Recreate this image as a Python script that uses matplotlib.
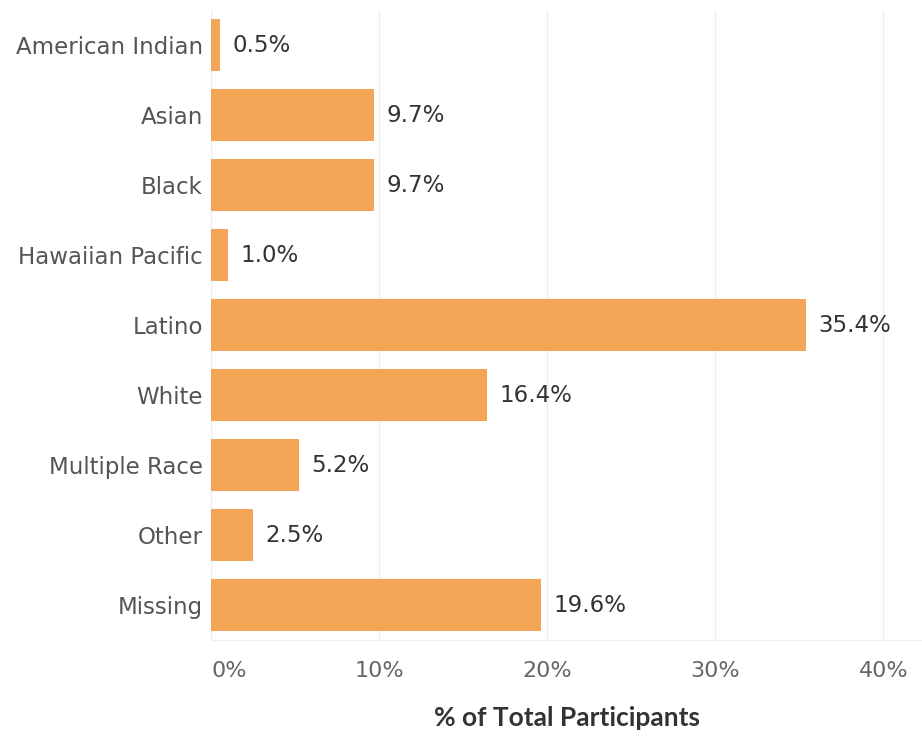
import matplotlib.pyplot as plt
from matplotlib.transforms import ScaledTranslation

# --- Data ---
categories = ["American Indian", "Asian", "Black", "Hawaiian Pacific", "Latino",
              "White", "Multiple Race", "Other", "Missing"]
percent = [0.5, 9.7, 9.7, 1.0, 35.4, 16.4, 5.2, 2.5, 19.6]
x_ticks = [0, 10, 20, 30, 40]
x_tick_labels = ["0%", "10%", "20%", "30%", "40%"]

plt.rcParams['font.family'] = ['DejaVu Sans']

fig = plt.figure(figsize=(9.22, 7.36), dpi=100)
ax = fig.add_axes([0.229, 0.130, 0.771, 0.856])

y = range(len(categories))
ax.barh(y, percent, height=0.74, color='#F4A455', zorder=3)

# value labels at bar ends
for i, v in enumerate(percent):
    ax.annotate(f"{v:.1f}%", xy=(v, i), xytext=(9, 0), textcoords='offset points',
                va='center', ha='left', fontsize=16.5, color='#333333')

ax.set_xlim(0, 42.3)
ax.set_ylim(len(categories) - 0.5, -0.5)

ax.set_yticks(list(y))
ax.set_yticklabels(categories, fontsize=16.5, color='#555555')
ax.set_xticks(x_ticks)
ax.set_xticklabels(x_tick_labels, fontsize=16, color='#666666')
first = ax.get_xticklabels()[0]
first.set_horizontalalignment('left')
first.set_transform(first.get_transform() + ScaledTranslation(5 / 100, 0, fig.dpi_scale_trans))
ax.tick_params(axis='both', length=0)
ax.tick_params(axis='y', pad=6)
ax.tick_params(axis='x', pad=15)

ax.grid(axis='x', color='#EEEEEE', linewidth=1, zorder=0)
for s in ['top', 'right', 'left']:
    ax.spines[s].set_visible(False)
ax.spines['bottom'].set_color('#EEEEEE')

ax.set_xlabel("% of Total Participants", fontsize=19, color='#333333',
              fontweight='bold', fontfamily=['Lato', 'DejaVu Sans'], labelpad=18)

fig.savefig("out.png", dpi=100)
